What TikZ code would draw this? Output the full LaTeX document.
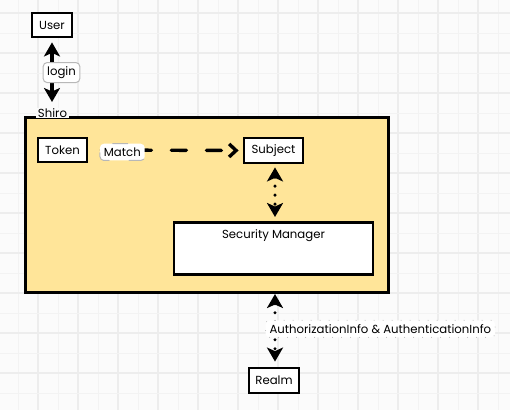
\documentclass[tikz,border=0pt]{standalone}
\usepackage{fontspec}
\setmainfont{Poppins}
\usetikzlibrary{arrows.meta}
\definecolor{bgc}{HTML}{FBFBFB}
\definecolor{gridthick}{HTML}{EDEDED}
\definecolor{gridthin}{HTML}{F3F3F3}
\definecolor{shirofill}{HTML}{FFE599}
\definecolor{lblborder}{HTML}{B8B8B8}
\tikzset{
  txt/.style={font=\fontsize{11.7}{14}\selectfont},
  box/.style={draw=black, line width=2.8pt, fill=white, inner sep=0pt, txt},
  lbl/.style={draw=lblborder, line width=1pt, fill=white, rounded corners=4pt, inner xsep=4pt, inner ysep=4pt, txt},
  conn/.style={line width=3.4pt, line cap=round},
  solidarr/.style={conn, {Stealth[length=14pt,width=16pt,inset=3.5pt]}-{Stealth[length=14pt,width=16pt,inset=3.5pt]}},
  dotarr/.style={conn, dash pattern=on 0pt off 9pt, {Stealth[length=14pt,width=16pt,inset=3.5pt]}-{Stealth[length=14pt,width=16pt,inset=3.5pt]}},
  dasharr/.style={conn, dash pattern=on 15pt off 20pt, dash phase=22pt, -{Straight Barb[length=7pt,width=13pt,line width=3.4pt]}},
}
\begin{document}
\begin{tikzpicture}[x=1pt,y=-1pt]
\useasboundingbox (0,0) rectangle (510,410);
\fill[bgc] (0,0) rectangle (510,410);
% grid
\foreach \i in {0,...,24} {
  \pgfmathsetmacro{\gx}{18+20*\i}
  \draw[gridthin, line width=1pt] (\gx,0) -- (\gx,410);
}
\foreach \i in {0,...,12} {
  \pgfmathsetmacro{\gx}{38+40*\i}
  \draw[gridthick, line width=1.6pt] (\gx,0) -- (\gx,410);
}
\foreach \i in {0,...,19} {
  \pgfmathsetmacro{\gy}{13+20*\i}
  \draw[gridthin, line width=1pt] (0,\gy) -- (510,\gy);
}
\foreach \i in {0,...,9} {
  \pgfmathsetmacro{\gy}{13+40*\i}
  \draw[gridthick, line width=1.6pt] (0,\gy) -- (510,\gy);
}
% container
\node[draw=black, line width=2.6pt, fill=shirofill, minimum width=363pt, minimum height=175pt, inner sep=0pt, anchor=north west] (shiro) at (24,116) {};
\node[fill=bgc, inner xsep=2pt, inner ysep=0pt, txt] (shirolbl) at (52.5,113) {Shiro};
% nodes
\node[box, minimum width=40pt, minimum height=24pt] (user) at (52,25) {User};
\node[box, minimum width=49pt, minimum height=24pt] (token) at (62.5,150) {Token};
\node[box, minimum width=59pt, minimum height=25pt] (subject) at (273.5,150.5) {Subject};
\node[box, minimum width=199pt, text height=12pt, text depth=32pt, inner ysep=4pt, anchor=north] (secmgr) at (273.5,221) {Security Manager};
\node[box, minimum width=50pt, minimum height=25pt] (realm) at (274,380.5) {Realm};
% connectors
\coordinate (shirotop) at (52,116);
\coordinate (shirobot) at (275,291);
\draw[solidarr, shorten <=4pt, shorten >=14pt] (user.south) -- (shirotop)
  node[lbl, pos=0.44, xshift=9.5pt] (login) {login};
\draw[dasharr, shorten >=4pt] (token.east) -- (subject.west)
  node[lbl, pos=0.22, yshift=-2pt] (match) {Match};
\draw[dotarr, shorten <=3pt, shorten >=4pt] (subject.south -| 275,0) -- (secmgr.north -| 275,0);
\draw[dotarr, shorten <=3pt, shorten >=5pt] (shirobot) -- (realm.north -| 275,0)
  node[lbl, pos=0.5, anchor=west, xshift=-10pt] (info) {AuthorizationInfo \& AuthenticationInfo};
\end{tikzpicture}
\end{document}
